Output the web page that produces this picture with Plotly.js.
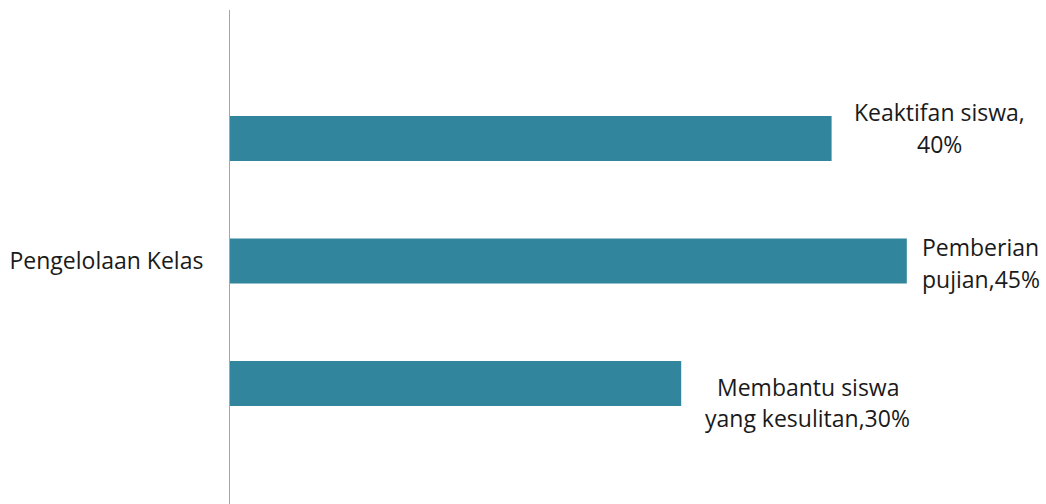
<!DOCTYPE html>
<html>
<head>
<meta charset="utf-8">
<script src="https://cdn.plot.ly/plotly-3.0.1.min.js"></script>
<style>html,body{margin:0;padding:0;background:#fff;}#chart{width:1046px;height:504px;}</style>
</head>
<body>
<div id="chart"></div>
<script>
// Data (bottom to top)
const category = ["Pengelolaan Kelas"];
const seriesNames = ["Membantu siswa yang kesulitan", "Pemberian pujian", "Keaktifan siswa"];
const seriesValues = [30, 45, 40];
const labelLines = [["Membantu siswa", "yang kesulitan,30%"], ["Pemberian", "pujian,45%"], ["Keaktifan siswa,", "40%"]];

const barColor = "#31859C";
const fontFamily = "'Open Sans', Lato, sans-serif";
const fontSize = 23;

const traces = seriesNames.map((name, i) => ({
  type: "bar",
  orientation: "h",
  name: name,
  y: category,
  x: [seriesValues[i]],
  marker: { color: barColor },
  hoverinfo: "x+name"
}));

// label placement (x offset in value units, y line positions in category units)
const labelDx = [8.4, 4.9, 7.2];
const labelLineY = [[-0.251, -0.313], [0.028, -0.036], [0.297, 0.233]];

const annotations = [];
seriesValues.forEach((v, i) => {
  labelLines[i].forEach((line, j) => {
    annotations.push({
      xref: "x", yref: "y",
      x: v + labelDx[i], y: labelLineY[i][j],
      text: line,
      showarrow: false,
      xanchor: "center", yanchor: "middle",
      align: "center",
      font: { family: fontFamily, size: fontSize, color: "#1a1a1a" }
    });
  });
});

const layout = {
  width: 1046, height: 504,
  margin: { l: 230, r: 64, t: 10, b: 0, pad: 0 },
  paper_bgcolor: "#ffffff", plot_bgcolor: "#ffffff",
  barmode: "group",
  bargap: 0.268,
  bargroupgap: 0.633,
  showlegend: false,
  font: { family: fontFamily, size: fontSize, color: "#1a1a1a" },
  xaxis: { range: [0, 50], showgrid: false, zeroline: false, showline: false, showticklabels: false, ticks: "" },
  yaxis: {
    range: [-0.484, 0.5], showgrid: false, zeroline: false,
    showline: true, linecolor: "#a6a6a6", linewidth: 1,
    ticks: "", ticklabelstandoff: 21,
    tickfont: { family: fontFamily, size: fontSize, color: "#1a1a1a" }
  },
  annotations: annotations
};

Plotly.newPlot("chart", traces, layout, { displayModeBar: false, staticPlot: true });
</script>
</body>
</html>
